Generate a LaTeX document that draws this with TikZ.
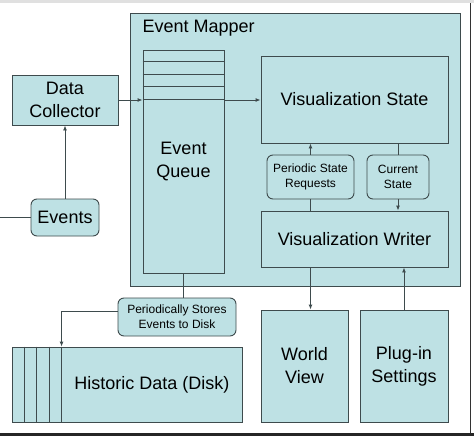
\documentclass[tikz,border=0pt]{standalone}
\usepackage{fontspec}
\setmainfont{Liberation Sans}
\usetikzlibrary{arrows.meta}
\definecolor{boxfill}{HTML}{BEE1E4}
\definecolor{boxline}{HTML}{3E4B4D}
\tikzset{
  box/.style={draw=boxline, fill=boxfill, line width=0.9pt, inner sep=0pt, align=center, text=black, font=\fontsize{18}{23}\selectfont},
  tag/.style={box, rounded corners=6pt, font=\fontsize{12}{15}\selectfont},
  conn/.style={draw=boxline, line width=0.9pt},
  >={Latex[length=5pt,width=4pt]}
}
\begin{document}
\begin{tikzpicture}[x=1pt,y=-1pt]
\useasboundingbox (0,0) rectangle (474,436);
\fill[white] (0,0) rectangle (474,436);
\fill[black!12] (0,0) rectangle (474,3);
\fill[black!85] (0,433) rectangle (474,436);
\draw[black!80, line width=1.5pt] (470.5,3) -- (470.5,433);

% event mapper and what is inside it
\node[box, minimum width=330pt, minimum height=273pt] (mapper) at (295,149.5) {};
\node[anchor=base west, font=\fontsize{18}{23}\selectfont] (mappertitle) at (139,33) {Event Mapper};
\node[box, minimum width=81pt, minimum height=223pt] (queue) at (183.5,161.5) {Event\\Queue};
\node[box, minimum width=187pt, minimum height=87pt] (vstate) at (354.5,99.5) {Visualization State};
\node[tag, minimum width=87pt, minimum height=44pt] (periodic) at (310.5,177) {Periodic State\\Requests};
\node[tag, minimum width=62pt, minimum height=44pt] (current) at (398,177) {Current\\State};
\node[box, minimum width=187pt, minimum height=56pt] (writer) at (354.5,239) {Visualization Writer};

\foreach \i in {1,...,4}
\draw[conn] ([yshift=-\i*12.4pt]queue.north west) -- ([yshift=-\i*12.4pt]queue.north east);

% outside
\node[box, minimum width=106pt, minimum height=50pt] (collector) at (65,100) {Data\\Collector};
\node[tag, font=\fontsize{18}{23}\selectfont, minimum width=68pt, minimum height=37pt] (events) at (65,217.5) {Events};
\coordinate (evin) at (0,217.5);
\node[box, minimum width=87pt, minimum height=112pt] (world) at (304.5,366) {World\\View};
\node[box, minimum width=88pt, minimum height=112pt] (plugin) at (404,366) {Plug-in\\Settings};
\node[tag, minimum width=118pt, minimum height=38pt] (stores) at (177,317) {Periodically Stores\\Events to Disk};
\node[box, minimum width=230pt, minimum height=75pt] (historic) at (127,384.5) {};
\node[font=\fontsize{18}{23}\selectfont] (historictext) at (152,384.5) {Historic Data (Disk)};

\foreach \i in {1,...,4}
\draw[conn] ([xshift=\i*12.5pt]historic.north west) -- ([xshift=\i*12.5pt]historic.south west);

% connectors
\draw[conn] (evin) -- (events.west);
\draw[conn, ->] (events.north) -- (collector.south);
\draw[conn, ->] (collector.east) -- (collector.east -| queue.west);
\draw[conn, ->] (collector.east -| queue.east) -- (collector.east -| vstate.west);
\draw[conn, ->] (periodic.north) -- (periodic.north |- vstate.south);
\draw[conn] (periodic.south |- writer.north) -- (periodic.south);
\draw[conn] (current.north |- vstate.south) -- (current.north);
\draw[conn, ->] (current.south) -- (current.south |- writer.north);
\draw[conn, ->] (periodic.south |- writer.south) -- (periodic.south |- world.north);
\draw[conn, ->] (plugin.north) -- (plugin.north |- writer.south);
\draw[conn] (queue.south) -- (queue.south |- stores.north);
\draw[conn, ->] ([yshift=6pt]stores.west) -| ([xshift=50pt]historic.north west);
\end{tikzpicture}
\end{document}
